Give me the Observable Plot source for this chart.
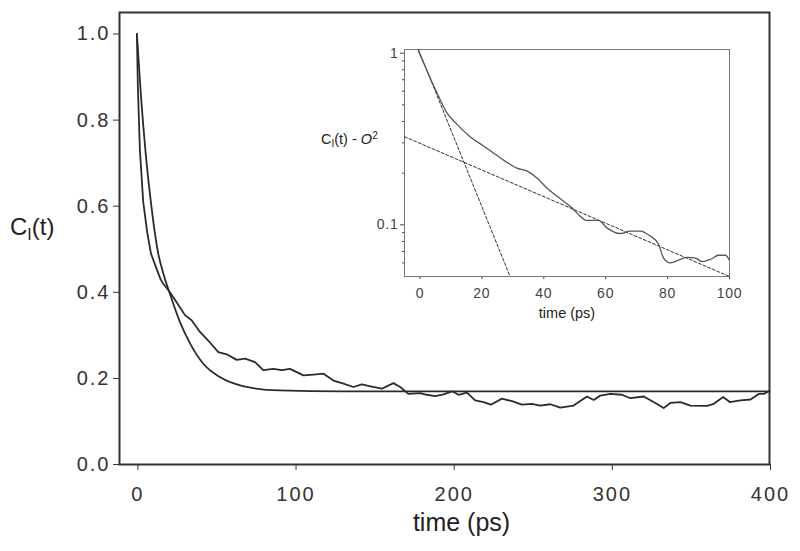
<!DOCTYPE html>
<html>
<head>
<meta charset="utf-8">
<script src="https://cdn.jsdelivr.net/npm/d3@7"></script>
<script src="https://cdn.jsdelivr.net/npm/@observablehq/plot@0.6"></script>
<style>
  body { margin: 0; background: white; }
  #wrap { position: relative; width: 800px; height: 551px; }
  #inset { position: absolute; left: 300px; top: 30px; }
</style>
</head>
<body>
<div id="wrap"><div id="main"></div><div id="inset"></div></div>
<script>
// ---- main chart data ----
const xTicksMain = [0, 100, 200, 300, 400];
const yTicksMain = [0, 0.2, 0.4, 0.6, 0.8, 1.0];

const fitT = [0, 2.5, 5.5, 9, 13.5, 17, 21, 27, 33.5, 42, 52.5, 67, 90, 130, 200, 300, 400];
const fitV = [1.0, 0.86, 0.725, 0.605, 0.49, 0.44, 0.395, 0.333, 0.282, 0.234, 0.203, 0.182, 0.172, 0.17, 0.17, 0.17, 0.17];

const dataT = [0, 0.6, 1.9, 4.0, 6.5, 8.9, 12.4, 15, 16.7, 20.9, 25.1, 30.4, 34.6, 39.9, 45.1, 51.5, 56.8, 63.1, 68.4, 74.7, 79.9, 86.3, 91.6, 96.8, 105.3, 111.6, 118, 124.3, 130.6, 136.9, 142.2, 148.5, 154.9, 162.2, 166.5, 171.7, 179.1, 183.3, 188.6, 193.9, 199.2, 203.4, 208.7, 213.9, 219.2, 223.9, 230.8, 237.2, 243.5, 249.8, 255, 261.4, 267.7, 276.1, 284.6, 288.8, 293, 299.4, 306.8, 312, 320.5, 327.8, 333.1, 337.3, 343.7, 350, 360.6, 364.8, 370.7, 374.9, 381.6, 388, 393.2, 396.4, 399.6];
const dataV = [1.0, 0.88, 0.73, 0.61, 0.54, 0.49, 0.455, 0.43, 0.42, 0.40, 0.377, 0.347, 0.335, 0.308, 0.288, 0.261, 0.256, 0.243, 0.246, 0.238, 0.219, 0.222, 0.219, 0.222, 0.207, 0.209, 0.211, 0.195, 0.188, 0.18, 0.186, 0.181, 0.176, 0.189, 0.18, 0.164, 0.166, 0.162, 0.159, 0.163, 0.17, 0.162, 0.167, 0.149, 0.145, 0.139, 0.153, 0.147, 0.139, 0.141, 0.137, 0.14, 0.132, 0.137, 0.158, 0.15, 0.16, 0.164, 0.162, 0.154, 0.158, 0.143, 0.131, 0.143, 0.145, 0.137, 0.136, 0.141, 0.157, 0.145, 0.149, 0.151, 0.164, 0.164, 0.17];

// ---- inset data ----
const insetXTicks = [0, 20, 40, 60, 80, 100];
const insetYMajor = [0.1, 1];
const insetYMinor = [0.06, 0.07, 0.08, 0.09, 0.2, 0.3, 0.4, 0.5, 0.6, 0.7, 0.8, 0.9];

const insetT = [-0.5, 2, 4, 5.9, 8.6, 11.9, 16.2, 20.5, 25.9, 31.3, 34.5, 37.7, 41, 44.2, 49, 51.8, 54, 57.7, 60.4, 64.7, 68, 71.2, 74.4, 77.1, 78.7, 80.9, 84.1, 86.3, 89, 91.2, 93.9, 96.5, 98.7, 100];
const insetV = [1.03, 0.81, 0.67, 0.566, 0.452, 0.386, 0.326, 0.288, 0.246, 0.214, 0.206, 0.188, 0.164, 0.147, 0.126, 0.112, 0.106, 0.106, 0.096, 0.089, 0.092, 0.092, 0.086, 0.077, 0.064, 0.060, 0.063, 0.0647, 0.064, 0.061, 0.063, 0.0665, 0.0665, 0.062];

const fastFitT = [-0.5, 29.1];
const fastFitV = [1.05, 0.05];
const slowFitT = [-5, 100];
const slowFitV = [0.326, 0.05];

const font = "'Liberation Sans', Arial, Helvetica, sans-serif";
const zip = (xs, ys) => xs.map((x, i) => ({x, y: ys[i]}));

const fit = zip(fitT, fitV);
const data = zip(dataT, dataV);

const main = Plot.plot({
  width: 800, height: 551,
  marginLeft: 119, marginRight: 31, marginTop: 12, marginBottom: 87,
  x: {domain: [-11, 400]},
  y: {domain: [0, 1.05]},
  style: {fontFamily: font, color: "#333", background: "white"},
  marks: [
    Plot.axisX({ticks: xTicksMain, tickSize: 6, tickPadding: 16, fontSize: 20, label: null, dx: 1, tickFormat: d3.format("d")}),
    Plot.axisY({ticks: yTicksMain, tickSize: 6, tickPadding: 3, fontSize: 20, label: null, tickFormat: d3.format(".1f")}),
    Plot.frame({stroke: "#333", strokeWidth: 2}),
    Plot.line(fit, {x: "x", y: "y", curve: "monotone-x", stroke: "#2b2b2b", strokeWidth: 1.8}),
    Plot.line(data, {x: "x", y: "y", stroke: "#2b2b2b", strokeWidth: 1.8}),
    Plot.text(["time (ps)"], {text: d => d, frameAnchor: "bottom", dy: 66, dx: 17, fontSize: 25, fill: "#222"})
  ]
});
d3.select(main).selectAll('g[aria-label="x-axis tick label"] text, g[aria-label="y-axis tick label"] text')
  .style("letter-spacing", "2px");
{
  const t = d3.select(main).append("text")
    .attr("x", 10).attr("y", 235).attr("text-anchor", "start")
    .attr("font-size", 24).attr("font-family", font).attr("fill", "#222");
  t.append("tspan").text("C");
  t.append("tspan").attr("font-size", 16).attr("dy", 5).text("I");
  t.append("tspan").attr("font-size", 24).attr("dy", -5).text("(t)");
}
document.getElementById("main").append(main);

const insetData = zip(insetT, insetV);
const fastFit = zip(fastFitT, fastFitV);
const slowFit = zip(slowFitT, slowFitV);

const inset = Plot.plot({
  width: 460, height: 300,
  marginLeft: 104, marginRight: 31, marginTop: 19, marginBottom: 54,
  x: {domain: [-5, 100]},
  y: {type: "log", domain: [0.05, 1.05]},
  style: {fontFamily: font, color: "#444", background: "transparent", overflow: "visible"},
  marks: [
    Plot.axisX({ticks: insetXTicks, tickSize: 3, tickPadding: 9, fontSize: 14, label: null, tickFormat: d3.format("d")}),
    Plot.axisY({ticks: insetYMajor, tickSize: 4, tickPadding: 2, fontSize: 14, label: null, tickFormat: d => d >= 1 ? "1" : "0.1"}),
    Plot.axisY({ticks: insetYMinor, tickSize: 2, label: null, tickFormat: () => ""}),
    Plot.frame({stroke: "#777", strokeWidth: 1}),
    Plot.line(slowFit, {x: "x", y: "y", stroke: "#333", strokeWidth: 1, strokeDasharray: "3,2"}),
    Plot.line(fastFit, {x: "x", y: "y", stroke: "#333", strokeWidth: 1, strokeDasharray: "3,2", clip: true}),
    Plot.line(insetData, {x: "x", y: "y", curve: "monotone-x", stroke: "#555", strokeWidth: 1.3, clip: true}),
    Plot.text(["time (ps)"], {text: d => d, frameAnchor: "bottom", dy: 41, fontSize: 14.5, fill: "#222"})
  ]
});
d3.select(inset).selectAll('g[aria-label="x-axis tick label"] text, g[aria-label="y-axis tick label"] text')
  .style("letter-spacing", "0.8px");
{
  const t = d3.select(inset).append("text")
    .attr("x", 21).attr("y", 114).attr("text-anchor", "start")
    .attr("font-size", 14.5).attr("font-family", font).attr("fill", "#222");
  t.append("tspan").text("C");
  t.append("tspan").attr("font-size", 10).attr("dy", 3).text("I");
  t.append("tspan").attr("font-size", 14.5).attr("dy", -3).text("(t) - ");
  t.append("tspan").attr("font-style", "italic").text("O");
  t.append("tspan").attr("font-size", 10).attr("dy", -5).text("2");
}
document.getElementById("inset").append(inset);
</script>
</body>
</html>
